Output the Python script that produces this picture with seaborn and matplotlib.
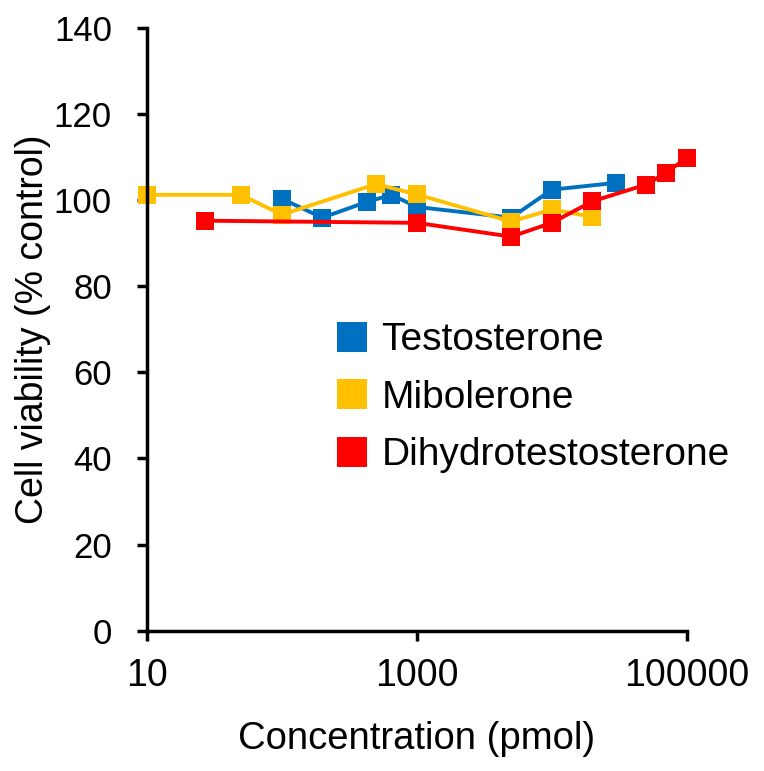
import pandas as pd
import seaborn as sns
import matplotlib.pyplot as plt
from matplotlib.ticker import FixedLocator, FixedFormatter, NullLocator

# values
testo_conc = [100, 200, 430, 650, 1000, 5000, 10000, 30000]
testo_viab = [100.3, 95.9, 99.6, 101.2, 98.4, 95.9, 102.4, 104.0]

mibo_conc = [10, 50, 100, 500, 1000, 5000, 10000, 20000]
mibo_viab = [101.2, 101.2, 96.6, 103.7, 101.3, 95.0, 97.8, 96.1]

dht_conc = [27, 1000, 5000, 10000, 20000, 50000, 70000, 100000]
dht_viab = [95.2, 94.7, 91.5, 94.7, 99.7, 103.6, 106.3, 109.8]

names = ["Testosterone", "Mibolerone", "Dihydrotestosterone"]
colors = ["#0070C0", "#FFC000", "#FF0000"]

df = pd.concat([
    pd.DataFrame({"conc": testo_conc, "viab": testo_viab, "compound": names[0]}),
    pd.DataFrame({"conc": mibo_conc, "viab": mibo_viab, "compound": names[1]}),
    pd.DataFrame({"conc": dht_conc, "viab": dht_viab, "compound": names[2]}),
])

sns.set_style("white")
plt.rcParams['font.family'] = ['Liberation Sans', 'DejaVu Sans']
plt.rcParams['text.color'] = 'black'
plt.rcParams['axes.labelcolor'] = 'black'

fig = plt.figure(figsize=(7.64, 7.71), dpi=100)
ax = fig.add_axes([0.192, 0.182, 0.707, 0.782])

sns.lineplot(data=df, x="conc", y="viab", hue="compound", hue_order=names,
             palette=colors, marker="s", markersize=13, markeredgewidth=0,
             linewidth=2.8, ax=ax, clip_on=False)

ax.set_xscale("log")
ax.set_xlim(10, 100000)
ax.set_ylim(0, 140)
ax.xaxis.set_major_locator(FixedLocator([10, 1000, 100000]))
ax.xaxis.set_major_formatter(FixedFormatter(["10", "1000", "100000"]))
ax.xaxis.set_minor_locator(NullLocator())
ax.set_yticks(range(0, 141, 20))

for s in ["top", "right"]:
    ax.spines[s].set_visible(False)
for s in ["left", "bottom"]:
    ax.spines[s].set_linewidth(2.5)
    ax.spines[s].set_color("black")

ax.tick_params(axis="both", direction="out", length=7, width=2.5,
               colors="black", left=True, bottom=True)
ax.tick_params(axis="y", labelsize=25, pad=18)
ax.tick_params(axis="x", labelsize=27, pad=13)

ax.set_xlabel("Concentration (pmol)", fontsize=27.5, labelpad=19)
ax.set_ylabel("Cell viability (% control)", fontsize=27)
ax.yaxis.set_label_coords(-0.177, 0.5)

handles, labels = ax.get_legend_handles_labels()
for h in handles:
    h.set_linestyle("")
    h.set_markersize(22)
ax.legend(handles, labels, loc="upper left", bbox_to_anchor=(0.33, 0.537),
          frameon=False, fontsize=28, handlelength=0.6, handletextpad=0.45,
          labelspacing=0.55, borderaxespad=0)

fig.savefig("out.png", dpi=100)
